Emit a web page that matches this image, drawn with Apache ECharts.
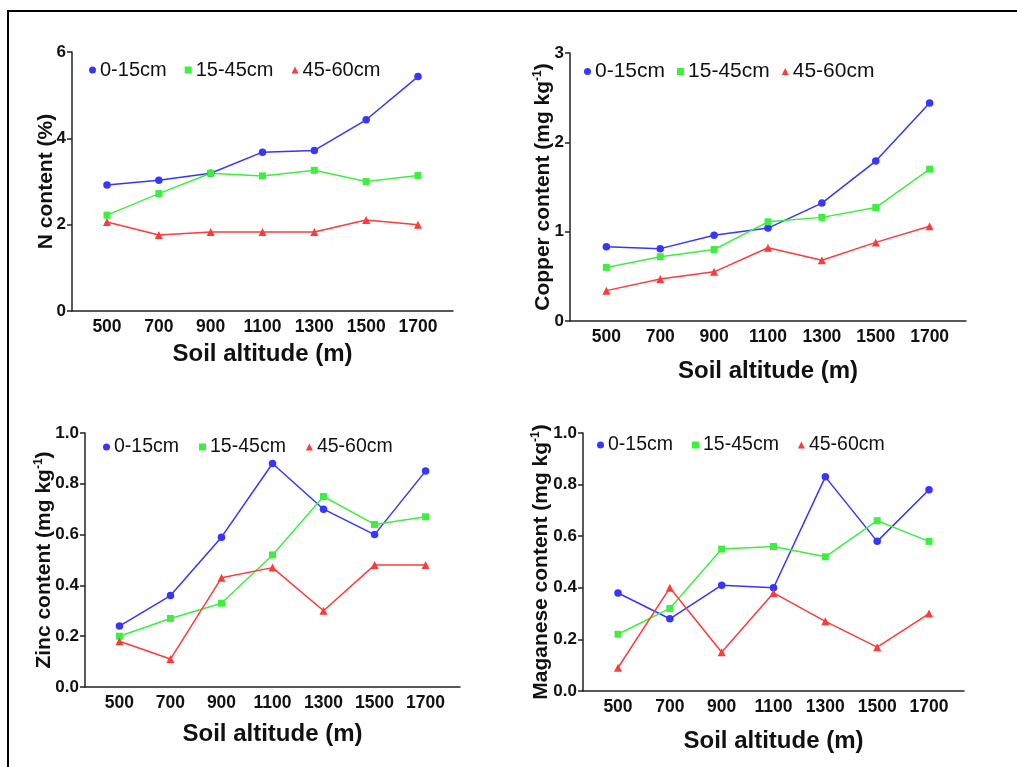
<!DOCTYPE html>
<html>
<head>
<meta charset="utf-8">
<script src="https://cdn.jsdelivr.net/npm/echarts@6/dist/echarts.min.js"></script>
<style>
html,body{margin:0;padding:0;background:#fff;}
#chart{width:1017px;height:767px;}
</style>
</head>
<body>
<div id="chart"></div>
<script>
// ---- data ----
const altitudes = [500, 700, 900, 1100, 1300, 1500, 1700];
const seriesNames = ['0-15cm', '15-45cm', '45-60cm'];

const nitrogen_0_15  = [2.92, 3.03, 3.19, 3.68, 3.72, 4.43, 5.43];
const nitrogen_15_45 = [2.22, 2.72, 3.19, 3.13, 3.26, 3.00, 3.14];
const nitrogen_45_60 = [2.06, 1.76, 1.83, 1.83, 1.83, 2.11, 2.00];

const copper_0_15  = [0.83, 0.81, 0.96, 1.04, 1.32, 1.79, 2.44];
const copper_15_45 = [0.60, 0.72, 0.80, 1.11, 1.16, 1.27, 1.70];
const copper_45_60 = [0.34, 0.47, 0.55, 0.82, 0.68, 0.88, 1.06];

const zinc_0_15  = [0.24, 0.36, 0.59, 0.88, 0.70, 0.60, 0.85];
const zinc_15_45 = [0.20, 0.27, 0.33, 0.52, 0.75, 0.64, 0.67];
const zinc_45_60 = [0.18, 0.11, 0.43, 0.47, 0.30, 0.48, 0.48];

const manganese_0_15  = [0.38, 0.28, 0.41, 0.40, 0.83, 0.58, 0.78];
const manganese_15_45 = [0.22, 0.32, 0.55, 0.56, 0.52, 0.66, 0.58];
const manganese_45_60 = [0.09, 0.40, 0.15, 0.38, 0.27, 0.17, 0.30];

const xAxisName = 'Soil altitude (m)';
const yNames = ['N content (%)', 'Copper content (mg kg{sup|-1})', 'Zinc content (mg kg{sup|-1})', 'Maganese content (mg kg{sup|-1})'];

// ---- styling ----
const FONT = 'Liberation Sans, Arial, sans-serif';
const colors = ['#3636ff', '#3ef03e', '#ff3a3a'];
const symbols = ['circle', 'rect', 'triangle'];
const symbolSizes = [7.5, 7, 8];

const panels = [
  {grid:{left:72, top:52, right:564, bottom:456}, y:{max:6, interval:2, dec:0}, yGap:15, xGap:31,
   legend:{left:84, top:55, gap:18, fs:20}, data:[nitrogen_0_15, nitrogen_15_45, nitrogen_45_60]},
  {grid:{left:570, top:53, right:51, bottom:446}, y:{max:3, interval:1, dec:0}, yGap:16, xGap:38,
   legend:{left:579, top:56, gap:12, fs:21}, data:[copper_0_15, copper_15_45, copper_45_60]},
  {grid:{left:85, top:433, right:557, bottom:80}, y:{max:1, interval:0.2, dec:1}, yGap:30, xGap:35,
   legend:{left:98, top:432, gap:20, fs:19.5}, data:[zinc_0_15, zinc_15_45, zinc_45_60]},
  {grid:{left:583, top:433, right:53, bottom:76}, y:{max:1, interval:0.2, dec:1}, yGap:31, xGap:38,
   legend:{left:592, top:430, gap:19, fs:19.5}, data:[manganese_0_15, manganese_15_45, manganese_45_60]}
];

const grids = [], xAxes = [], yAxes = [], legends = [], series = [];
panels.forEach((p, i) => {
  grids.push(Object.assign({containLabel:false}, p.grid));
  xAxes.push({
    type:'value', gridIndex:i, min:365, max:1835,
    name:xAxisName, nameLocation:'middle', nameGap:p.xGap, nameMoveOverlap:false,
    nameTextStyle:{fontFamily:FONT, fontSize:24, fontWeight:'bold', color:'#111'},
    axisLine:{show:true, lineStyle:{color:'#222', width:1.5}},
    axisTick:{show:false},
    splitLine:{show:false},
    axisLabel:{customValues:altitudes, fontFamily:FONT, fontSize:17.5, fontWeight:'bold', color:'#111', margin:7,
      formatter:v => String(v)}
  });
  yAxes.push({
    type:'value', gridIndex:i, min:0, max:p.y.max, interval:p.y.interval,
    name:yNames[i], nameLocation:'middle', nameGap:p.yGap, nameMoveOverlap:false,
    nameTextStyle:{fontFamily:FONT, fontSize:21, fontWeight:'bold', color:'#111',
      rich:{sup:{fontFamily:FONT, fontSize:12, fontWeight:'bold', color:'#111', verticalAlign:'top', padding:[0,0,10,0]}}},
    axisLine:{show:true, lineStyle:{color:'#222', width:1.5}},
    axisTick:{show:true, inside:false, length:5, lineStyle:{color:'#222', width:1.5}},
    splitLine:{show:false},
    axisLabel:{fontFamily:FONT, fontSize:17, fontWeight:'bold', color:'#111', margin:6,
      formatter:v => v.toFixed(p.y.dec)}
  });
  legends.push({
    left:p.legend.left, top:p.legend.top, orient:'horizontal',
    itemWidth:7, itemHeight:7, itemGap:p.legend.gap,
    textStyle:{fontFamily:FONT, fontSize:p.legend.fs, color:'#111', padding:[0,0,0,-1]},
    data:seriesNames.map((n, k) => ({name:n, icon:symbols[k]}))
  });
  p.data.forEach((vals, k) => {
    series.push({
      type:'line', name:seriesNames[k], xAxisIndex:i, yAxisIndex:i,
      data:altitudes.map((a, j) => [a, vals[j]]),
      symbol:symbols[k], symbolSize:symbolSizes[k],
      lineStyle:{color:colors[k], width:1.5},
      itemStyle:{color:colors[k]},
      animation:false
    });
  });
});

const chart = echarts.init(document.getElementById('chart'), null, {renderer:'canvas'});
chart.setOption({
  animation:false,
  backgroundColor:'#fff',
  grid:grids, xAxis:xAxes, yAxis:yAxes, legend:legends, series:series,
  graphic:[{type:'rect', shape:{x:8, y:11, width:1100, height:900}, style:{fill:'none', stroke:'#000', lineWidth:2}, silent:true}]
});
</script>
</body>
</html>
